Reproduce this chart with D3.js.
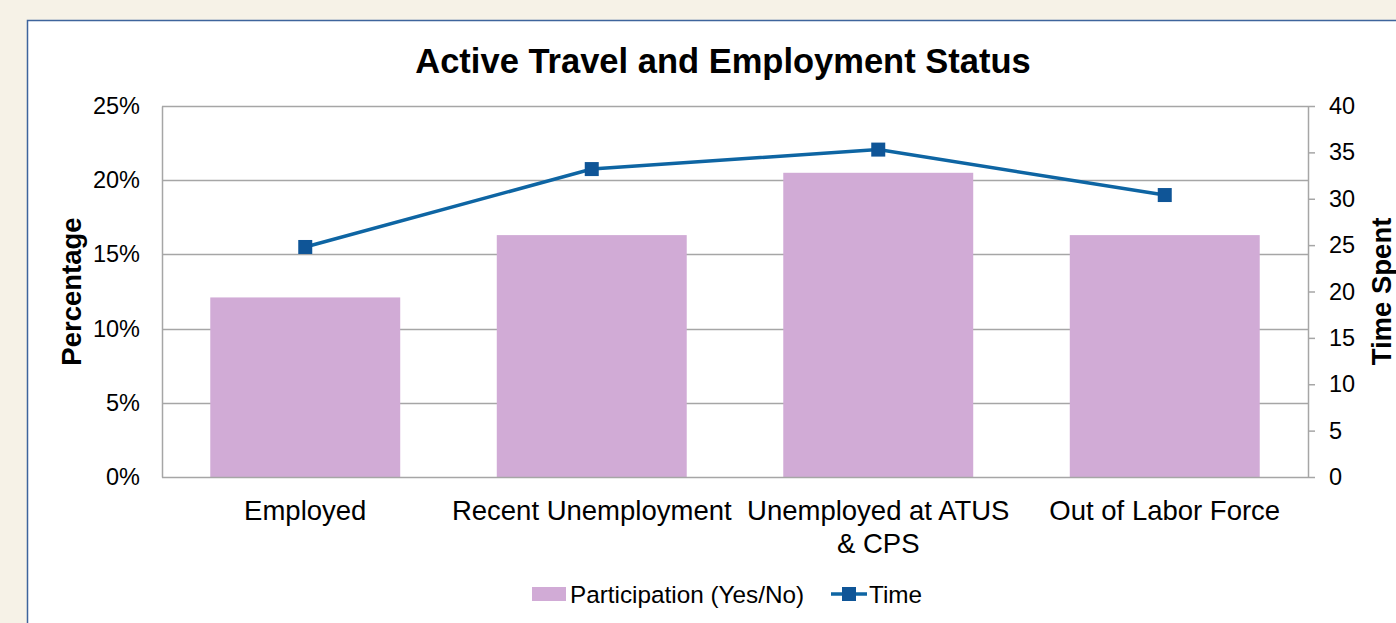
<!DOCTYPE html>
<html>
<head>
<meta charset="utf-8">
<script src="https://cdn.jsdelivr.net/npm/d3@7"></script>
<style>
  html, body { margin: 0; padding: 0; background: #f6f2e7; }
  svg { display: block; font-family: "Liberation Sans", Arial, sans-serif; }
</style>
</head>
<body>
<svg id="chart" width="1396" height="623"></svg>
<script>
// Chart data
const categories = [["Employed"], ["Recent Unemployment"], ["Unemployed at ATUS", "& CPS"], ["Out of Labor Force"]];
const participation = [12.1, 16.3, 20.5, 16.3];   // percent
const timeSpent = [24.8, 33.2, 35.3, 30.4];       // minutes
const pctTicks = [0, 5, 10, 15, 20, 25];
const timeTicks = [0, 5, 10, 15, 20, 25, 30, 35, 40];

const svg = d3.select('#chart');

// White chart panel, runs off the right and bottom edges
svg.append('rect')
  .attr('x', 27.5).attr('y', 20.5)
  .attr('width', 1400).attr('height', 620)
  .attr('fill', '#fff')
  .attr('stroke', '#3e649c')
  .attr('stroke-width', 1.5);

const plot = { left: 162, right: 1308, top: 106, bottom: 477 };

const x = d3.scaleBand()
  .domain(d3.range(categories.length))
  .range([plot.left, plot.right])
  .paddingInner(0.337)
  .paddingOuter(0.1685);

const yPct = d3.scaleLinear().domain([0, 25]).range([plot.bottom, plot.top]);
const yTime = d3.scaleLinear().domain([0, 40]).range([plot.bottom, plot.top]);

// gridlines
svg.append('g')
  .selectAll('line')
  .data(pctTicks.slice(1))
  .join('line')
  .attr('x1', plot.left).attr('x2', plot.right)
  .attr('y1', d => Math.round(yPct(d)) + 0.5)
  .attr('y2', d => Math.round(yPct(d)) + 0.5)
  .attr('stroke', '#a6a6a6')
  .attr('stroke-width', 1.5);

// bars
svg.append('g')
  .selectAll('rect')
  .data(participation)
  .join('rect')
  .attr('x', (d, i) => x(i))
  .attr('width', x.bandwidth())
  .attr('y', d => yPct(d))
  .attr('height', d => plot.bottom - yPct(d))
  .attr('fill', '#d1abd6');

// left axis
const leftAxis = svg.append('g')
  .attr('transform', `translate(${plot.left},0)`)
  .call(d3.axisLeft(yPct).tickValues(pctTicks).tickSize(0).tickPadding(22)
    .tickFormat(d => d + '%'));
leftAxis.select('.domain').attr('stroke', '#a6a6a6').attr('stroke-width', 1.5);
leftAxis.selectAll('text').attr('font-size', 23.5).attr('fill', '#000')
  .attr('font-family', '"Liberation Sans", Arial, sans-serif');

// right axis
const rightAxis = svg.append('g')
  .attr('transform', `translate(${plot.right},0)`)
  .call(d3.axisRight(yTime).tickValues(timeTicks).tickSize(7).tickSizeOuter(0).tickPadding(14));
rightAxis.select('.domain').attr('stroke', '#a6a6a6').attr('stroke-width', 1.5);
rightAxis.selectAll('line').attr('stroke', '#a6a6a6').attr('stroke-width', 1.5);
rightAxis.selectAll('text').attr('font-size', 23.5).attr('fill', '#000')
  .attr('font-family', '"Liberation Sans", Arial, sans-serif');

// bottom axis line
svg.append('line')
  .attr('x1', plot.left).attr('x2', plot.right)
  .attr('y1', plot.bottom + 0.5).attr('y2', plot.bottom + 0.5)
  .attr('stroke', '#a6a6a6').attr('stroke-width', 1.5);

// category labels
svg.append('g')
  .selectAll('text')
  .data(categories)
  .join('text')
  .attr('x', (d, i) => x(i) + x.bandwidth() / 2)
  .attr('y', 520)
  .attr('text-anchor', 'middle')
  .attr('font-size', 27.5)
  .selectAll('tspan')
  .data(d => d)
  .join('tspan')
  .attr('x', function () { return this.parentNode.getAttribute('x'); })
  .attr('dy', (d, i) => i === 0 ? 0 : 33)
  .text(d => d);

// line series
const line = d3.line()
  .x((d, i) => x(i) + x.bandwidth() / 2)
  .y(d => yTime(d));

svg.append('path')
  .datum(timeSpent)
  .attr('d', line)
  .attr('fill', 'none')
  .attr('stroke', '#0e65a3')
  .attr('stroke-width', 3.5);

svg.append('g')
  .selectAll('rect')
  .data(timeSpent)
  .join('rect')
  .attr('x', (d, i) => x(i) + x.bandwidth() / 2 - 7)
  .attr('y', d => yTime(d) - 7)
  .attr('width', 14).attr('height', 14)
  .attr('fill', '#0f5597');

// title
svg.append('text')
  .attr('x', 723).attr('y', 73)
  .attr('text-anchor', 'middle')
  .attr('font-size', 34.5)
  .attr('font-weight', 'bold')
  .text('Active Travel and Employment Status');

// axis titles
svg.append('text')
  .attr('transform', `translate(81,${(plot.top + plot.bottom) / 2}) rotate(-90)`)
  .attr('text-anchor', 'middle')
  .attr('font-size', 27.5)
  .attr('font-weight', 'bold')
  .text('Percentage');

svg.append('text')
  .attr('transform', `translate(1391,${(plot.top + plot.bottom) / 2}) rotate(-90)`)
  .attr('text-anchor', 'middle')
  .attr('font-size', 27.5)
  .attr('font-weight', 'bold')
  .text('Time Spent');

// legend
const legend = svg.append('g');
legend.append('rect')
  .attr('x', 532).attr('y', 587).attr('width', 34).attr('height', 14)
  .attr('fill', '#d1abd6');
legend.append('text')
  .attr('x', 570).attr('y', 603)
  .attr('font-size', 24.3)
  .text('Participation (Yes/No)');
legend.append('line')
  .attr('x1', 831).attr('x2', 867).attr('y1', 594).attr('y2', 594)
  .attr('stroke', '#0e65a3').attr('stroke-width', 3.5);
legend.append('rect')
  .attr('x', 842).attr('y', 587).attr('width', 14).attr('height', 14)
  .attr('fill', '#0f5597');
legend.append('text')
  .attr('x', 869).attr('y', 603)
  .attr('font-size', 24.3)
  .text('Time');
</script>
</body>
</html>
